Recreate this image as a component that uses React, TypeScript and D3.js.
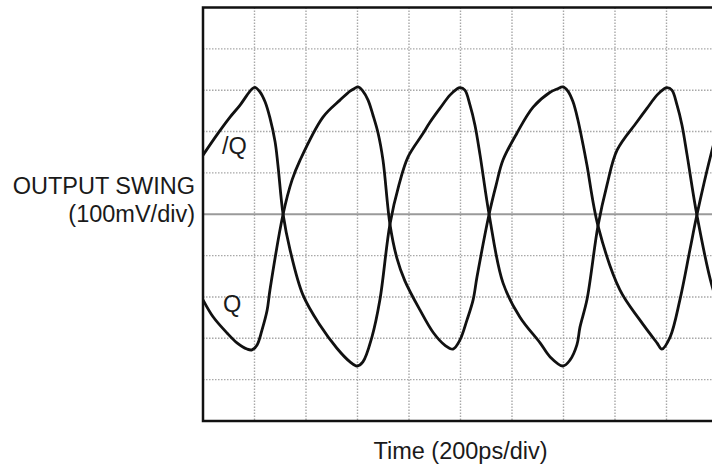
import React from 'react';
import * as d3 from 'd3';

// time in ps (200ps/div), output in mV (100mV/div)
const qBarTime = [0, 54, 105, 144, 171, 190, 202, 221, 241, 260, 280, 291, 311, 338, 388, 454, 520, 571, 598, 621, 656, 687, 726, 761, 796, 851, 882, 920, 959, 986, 998, 1017, 1037, 1056, 1076, 1111, 1165, 1231, 1309, 1348, 1398, 1425, 1452, 1464, 1491, 1534, 1569, 1608, 1685, 1724, 1763, 1790, 1802, 1821, 1841, 1860, 1880, 1918, 1977, 2000];
const qBarVolt = [143, 192, 235, 264, 288, 303, 307, 296, 272, 233, 175, 119, 0, -86, -195, -268, -324, -357, -367, -357, -297, -207, -24, 71, 138, 192, 223, 256, 288, 303, 306, 300, 264, 216, 143, 0, -166, -249, -311, -345, -367, -353, -316, -273, -207, -28, 71, 155, 223, 256, 288, 303, 306, 300, 264, 216, 143, -2, -174, -215];

const qTime = [0, 39, 93, 132, 171, 190, 210, 229, 249, 260, 311, 346, 377, 466, 532, 571, 590, 602, 621, 641, 660, 680, 699, 726, 753, 784, 843, 894, 940, 971, 998, 1025, 1049, 1064, 1111, 1138, 1165, 1219, 1282, 1348, 1375, 1398, 1417, 1437, 1456, 1476, 1491, 1534, 1619, 1697, 1763, 1782, 1814, 1852, 1891, 1918, 1977, 2000];
const qVolt = [-207, -248, -287, -311, -326, -328, -316, -280, -232, -183, 0, 83, 131, 235, 276, 298, 305, 308, 298, 276, 240, 196, 131, -24, -106, -161, -232, -286, -317, -326, -304, -256, -207, -152, 0, 70, 131, 196, 259, 295, 303, 308, 298, 272, 228, 168, 119, -28, -183, -256, -311, -326, -297, -207, -86, -2, 155, 205];

const timeTicks = [200, 400, 600, 800, 1000, 1200, 1400, 1600, 1800];
const voltTicks = [-400, -300, -200, -100, 100, 200, 300, 400];

const width = 712;
const height = 464;
const font = '"Liberation Sans", Arial, Helvetica, sans-serif';

const x = d3.scaleLinear().domain([0, 2000]).range([203, 718]);
const y = d3.scaleLinear().domain([-500, 500]).range([421, 7.5]);

const line = d3.line<[number, number]>()
  .x(d => x(d[0]))
  .y(d => y(d[1]))
  .curve(d3.curveCatmullRom.alpha(0.5));

const App: React.FC = () => {
  const qBar = qBarTime.map((t, i) => [t, qBarVolt[i]] as [number, number]);
  const q = qTime.map((t, i) => [t, qVolt[i]] as [number, number]);
  const [x0, x1] = x.range();
  const [y0, y1] = y.range();

  return (
    <svg width={width} height={height} style={{ position: 'absolute', left: 0, top: 0, background: '#fff' }}>
      <defs>
        <clipPath id="plot">
          <rect x={x0} y={y1} width={x1 - x0} height={y0 - y1} />
        </clipPath>
      </defs>

      {/* dotted grid */}
      <g stroke="#a8a8a8" strokeWidth={1.4} strokeDasharray="1.5 1.5">
        {timeTicks.map(t => (
          <line key={'v' + t} x1={x(t)} x2={x(t)} y1={y1} y2={y0} />
        ))}
        {voltTicks.map(v => (
          <line key={'h' + v} x1={x0} x2={x1} y1={y(v)} y2={y(v)} />
        ))}
      </g>
      {/* zero level */}
      <line x1={x0} x2={x1} y1={y(0)} y2={y(0)} stroke="#9a9a9a" strokeWidth={2} />

      <g clipPath="url(#plot)" fill="none" stroke="#111" strokeWidth={2.8} strokeLinejoin="round" strokeLinecap="round">
        <path d={line(qBar) || ''} />
        <path d={line(q) || ''} />
      </g>

      <rect x={x0} y={y1} width={x1 - x0} height={y0 - y1} fill="none" stroke="#111" strokeWidth={2.5} />

      <g fontFamily={font} fontSize={23.5} fill="#1a1a1a">
        <text x={222} y={154}>/Q</text>
        <text x={223} y={312}>Q</text>
        <text x={195} y={194} textAnchor="end">OUTPUT SWING</text>
        <text x={195} y={222} textAnchor="end">(100mV/div)</text>
        <text x={(x0 + x1) / 2} y={459} textAnchor="middle">Time (200ps/div)</text>
      </g>
    </svg>
  );
};

export default App;
